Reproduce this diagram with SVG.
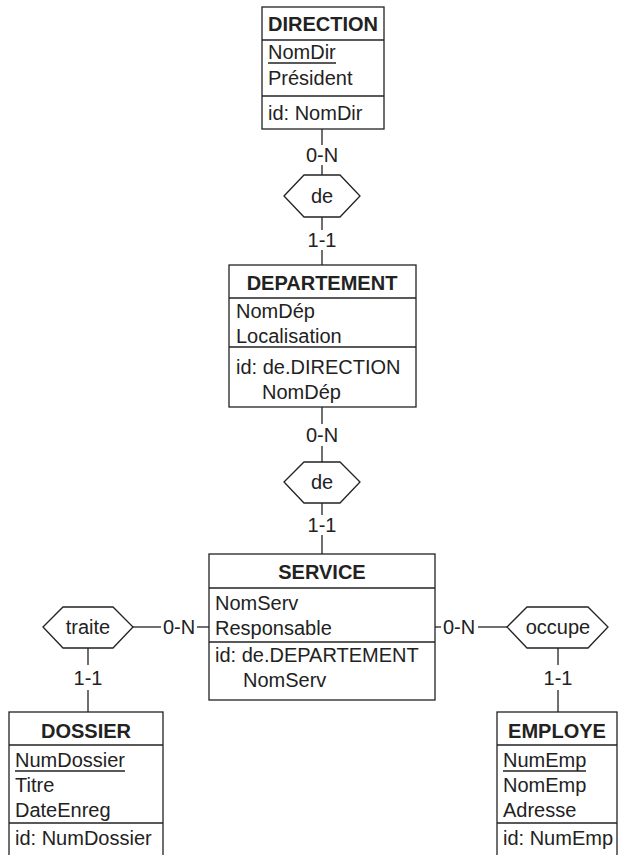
<svg xmlns="http://www.w3.org/2000/svg" width="621" height="855" viewBox="0 0 621 855">
<style>
text{font-family:"Liberation Sans",Arial,sans-serif;font-size:20px;fill:#222}
.t{font-weight:bold;text-anchor:middle}
.c{text-anchor:middle}
.s{stroke:#222;stroke-width:1.3;fill:#fff}
.bg{fill:#fff;stroke:none}
</style>
<rect class="bg" x="0" y="0" width="621" height="855"/>
<g id="connectors" class="s">
<line x1="322" y1="129" x2="322" y2="145"/><line x1="322" y1="165" x2="322" y2="175"/>
<line x1="322" y1="217" x2="322" y2="230"/><line x1="322" y1="250" x2="322" y2="265"/>
<line x1="322" y1="407" x2="322" y2="424"/><line x1="322" y1="446" x2="322" y2="462"/>
<line x1="322" y1="503" x2="322" y2="515"/><line x1="322" y1="535" x2="322" y2="554"/>
<line x1="133" y1="627" x2="161" y2="627"/><line x1="197" y1="627" x2="209" y2="627"/>
<line x1="88" y1="648" x2="88" y2="665"/><line x1="88" y1="690" x2="88" y2="712"/>
<line x1="435" y1="627" x2="441" y2="627"/><line x1="478" y1="627" x2="507" y2="627"/>
<line x1="558" y1="648" x2="558" y2="665"/><line x1="558" y1="690" x2="558" y2="712"/>
</g>
<g id="labels">
<text class="c" x="322" y="162">0-N</text>
<text class="c" x="322" y="247">1-1</text>
<text class="c" x="322" y="442">0-N</text>
<text class="c" x="322" y="532">1-1</text>
<text class="c" x="179" y="634">0-N</text>
<text class="c" x="88" y="685">1-1</text>
<text class="c" x="459" y="634">0-N</text>
<text class="c" x="558" y="685">1-1</text>
</g>
<g id="de1">
<polygon class="s" points="284,196 304,175 340,175 360,196 340,217 304,217"/>
<text class="c" x="322" y="203">de</text>
</g>
<g id="de2">
<polygon class="s" points="284,482 304,462 340,462 360,482 340,503 304,503"/>
<text class="c" x="322" y="489">de</text>
</g>
<g id="traite">
<polygon class="s" points="43,627 63,607 113,607 133,627 113,648 63,648"/>
<text class="c" x="88" y="634">traite</text>
</g>
<g id="occupe">
<polygon class="s" points="507,627 527,607 588,607 608,627 588,648 527,648"/>
<text class="c" x="558" y="634">occupe</text>
</g>
<g id="DIRECTION">
<rect class="s" x="262" y="7" width="122" height="122"/>
<line class="s" x1="262" y1="40" x2="384" y2="40"/>
<line class="s" x1="262" y1="96" x2="384" y2="96"/>
<text class="t" x="323" y="31">DIRECTION</text>
<text x="268" y="59">NomDir</text>
<line class="s" x1="268" y1="63" x2="336" y2="63"/>
<text x="268" y="85">Président</text>
<text x="268" y="120">id: NomDir</text>
</g>
<g id="DEPARTEMENT">
<rect class="s" x="229" y="265" width="187" height="142"/>
<line class="s" x1="229" y1="298" x2="416" y2="298"/>
<line class="s" x1="229" y1="347" x2="416" y2="347"/>
<text class="t" x="322" y="290">DEPARTEMENT</text>
<text x="236" y="318">NomDép</text>
<text x="236" y="343">Localisation</text>
<text x="236" y="374">id: de.DIRECTION</text>
<text x="262" y="399">NomDép</text>
</g>
<g id="SERVICE">
<rect class="s" x="209" y="554" width="226" height="146"/>
<line class="s" x1="209" y1="588" x2="435" y2="588"/>
<line class="s" x1="209" y1="642" x2="435" y2="642"/>
<text class="t" x="322" y="579">SERVICE</text>
<text x="215" y="610">NomServ</text>
<text x="215" y="635">Responsable</text>
<text x="215" y="662">id: de.DEPARTEMENT</text>
<text x="243" y="687">NomServ</text>
</g>
<g id="DOSSIER">
<rect class="s" x="9" y="712" width="154" height="150"/>
<line class="s" x1="9" y1="745" x2="163" y2="745"/>
<line class="s" x1="9" y1="823" x2="163" y2="823"/>
<text class="t" x="86" y="738">DOSSIER</text>
<text x="15" y="767">NumDossier</text>
<line class="s" x1="15" y1="771" x2="125" y2="771"/>
<text x="15" y="792">Titre</text>
<text x="15" y="817">DateEnreg</text>
<text x="15" y="845">id: NumDossier</text>
</g>
<g id="EMPLOYE">
<rect class="s" x="497" y="712" width="120" height="150"/>
<line class="s" x1="497" y1="745" x2="617" y2="745"/>
<line class="s" x1="497" y1="823" x2="617" y2="823"/>
<text class="t" x="557" y="738">EMPLOYE</text>
<text x="503" y="767">NumEmp</text>
<line class="s" x1="503" y1="771" x2="586" y2="771"/>
<text x="503" y="792">NomEmp</text>
<text x="503" y="817">Adresse</text>
<text x="503" y="845">id: NumEmp</text>
</g>
</svg>
